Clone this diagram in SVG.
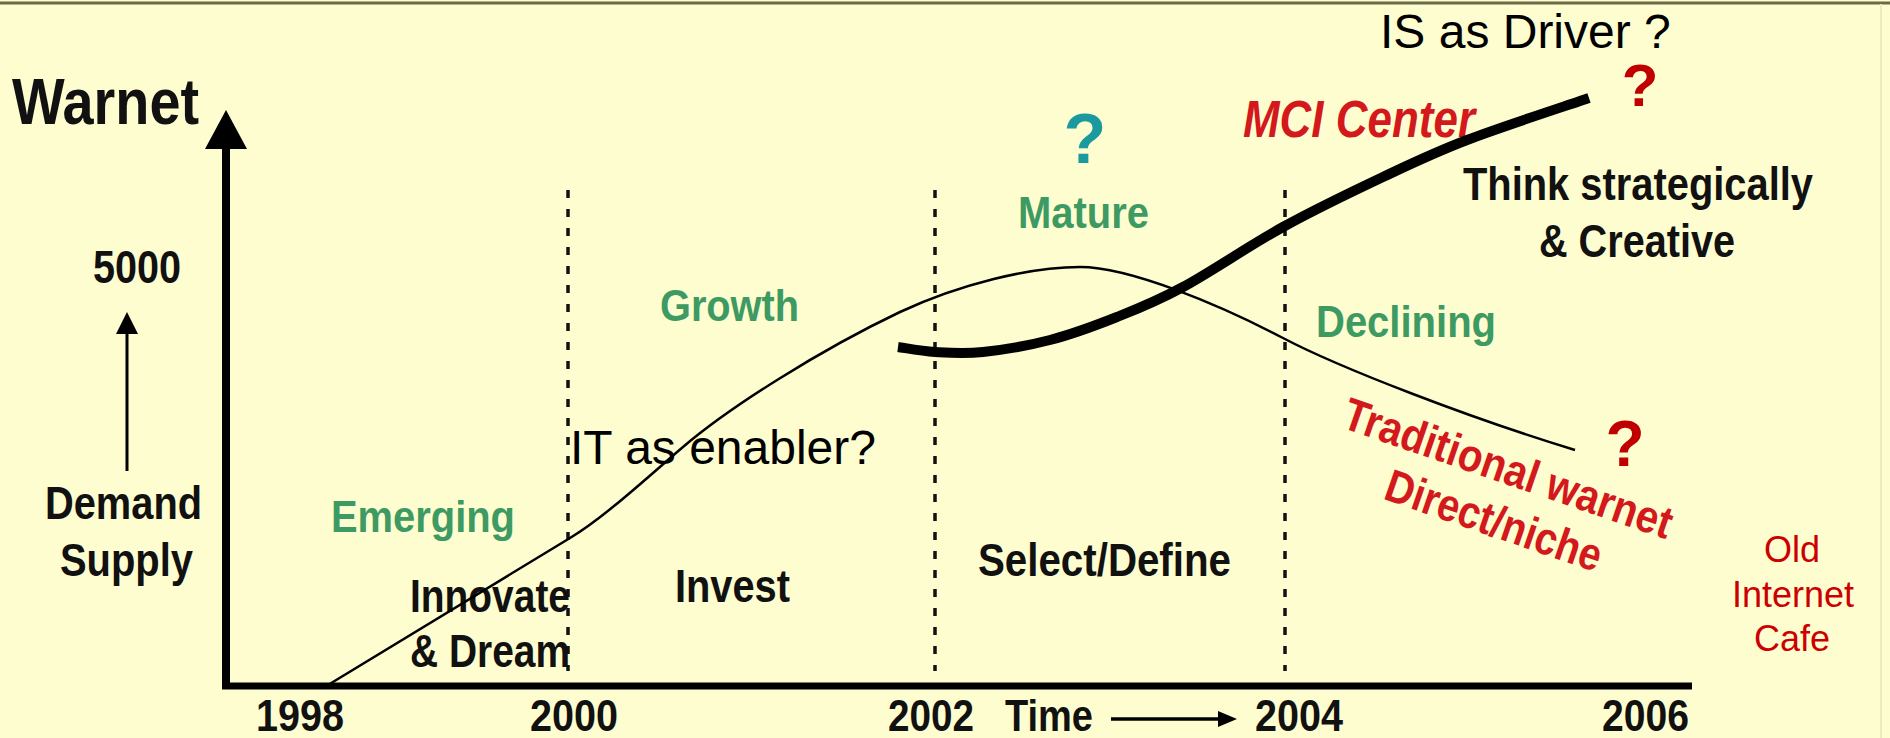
<svg xmlns="http://www.w3.org/2000/svg" width="1890" height="738" viewBox="0 0 1890 738">
<defs>
<style>
.b{font-family:"Liberation Sans",Arial,sans-serif;font-weight:bold;fill:#111}
.r{font-family:"Liberation Sans",Arial,sans-serif}
.k{fill:#000}
.oc{fill:#CC0000}
.g{fill:#3D9A63}
.red{fill:#D3191C}
.q{font-family:"Liberation Sans",Arial,sans-serif;font-weight:bold}
.dash{stroke:#111;stroke-width:3.5;stroke-dasharray:8 11;fill:none}
</style>
</defs>
<rect x="0" y="0" width="1890" height="738" fill="#FEFDCF"/>
<line x1="0" y1="3" x2="1890" y2="3" stroke="#6B6B48" stroke-width="3"/>
<line x1="1881" y1="4" x2="1881" y2="738" stroke="#ECEBC0" stroke-width="2"/>

<g id="axes">
<line x1="226" y1="686" x2="226" y2="145" stroke="#000" stroke-width="8"/>
<polygon points="226,110 205,149 247,149" fill="#000"/>
<line x1="222" y1="686" x2="1692" y2="686" stroke="#000" stroke-width="7"/>
</g>

<g id="dividers">
<line class="dash" x1="568" y1="190" x2="568" y2="671"/>
<line class="dash" x1="935" y1="190" x2="935" y2="671"/>
<line class="dash" x1="1285" y1="190" x2="1285" y2="671"/>
</g>

<g id="y-label">
<text class="b" x="12" y="124" font-size="64" textLength="187" lengthAdjust="spacingAndGlyphs">Warnet</text>
<text class="b" x="93" y="283" font-size="47" textLength="88" lengthAdjust="spacingAndGlyphs">5000</text>
<line x1="127" y1="471" x2="127" y2="328" stroke="#000" stroke-width="3"/>
<polygon points="127,312 116,334 138,334" fill="#000"/>
<text class="b" x="45" y="519" font-size="47" textLength="157" lengthAdjust="spacingAndGlyphs">Demand</text>
<text class="b" x="60" y="576" font-size="47" textLength="133" lengthAdjust="spacingAndGlyphs">Supply</text>
</g>

<g id="x-label">
<text class="b" x="256" y="731" font-size="45" textLength="88" lengthAdjust="spacingAndGlyphs">1998</text>
<text class="b" x="530" y="731" font-size="45" textLength="88" lengthAdjust="spacingAndGlyphs">2000</text>
<text class="b" x="888" y="731" font-size="45" textLength="86" lengthAdjust="spacingAndGlyphs">2002</text>
<text class="b" x="1005" y="731" font-size="45" textLength="88" lengthAdjust="spacingAndGlyphs">Time</text>
<line x1="1111" y1="719" x2="1222" y2="719" stroke="#000" stroke-width="3.5"/>
<polygon points="1237,719 1218,711 1218,727" fill="#000"/>
<text class="b" x="1255" y="731" font-size="45" textLength="88" lengthAdjust="spacingAndGlyphs">2004</text>
<text class="b" x="1602" y="731" font-size="45" textLength="87" lengthAdjust="spacingAndGlyphs">2006</text>
</g>

<g id="stage-emerging">
<text class="b g" x="331" y="532" font-size="45" textLength="184" lengthAdjust="spacingAndGlyphs">Emerging</text>
<text class="b" x="410" y="612" font-size="46" textLength="160" lengthAdjust="spacingAndGlyphs">Innovate</text>
<text class="b" x="410" y="667" font-size="46" textLength="160" lengthAdjust="spacingAndGlyphs">&amp; Dream</text>
</g>

<g id="stage-growth">
<text class="b g" x="660" y="321" font-size="45" textLength="139" lengthAdjust="spacingAndGlyphs">Growth</text>
<text class="b" x="675" y="602" font-size="46" textLength="115" lengthAdjust="spacingAndGlyphs">Invest</text>
</g>

<g id="stage-mature">
<text class="q" x="1085" y="163" font-size="70" fill="#1A9A9F" text-anchor="middle">?</text>
<text class="b g" x="1018" y="228" font-size="45" textLength="131" lengthAdjust="spacingAndGlyphs">Mature</text>
<text class="b" x="978" y="576" font-size="46" textLength="253" lengthAdjust="spacingAndGlyphs">Select/Define</text>
</g>

<g id="stage-declining">
<text class="b g" x="1316" y="337" font-size="45" textLength="180" lengthAdjust="spacingAndGlyphs">Declining</text>
</g>

<g id="mci-center">
<text class="b red" x="1243" y="137" font-size="51" font-style="italic" textLength="232" lengthAdjust="spacingAndGlyphs">MCI Center</text>
<text class="q" x="1640" y="106" font-size="60" fill="#C00000" text-anchor="middle">?</text>
<text class="b" x="1638" y="200" font-size="46" text-anchor="middle" textLength="350" lengthAdjust="spacingAndGlyphs">Think strategically</text>
<text class="b" x="1637" y="257" font-size="46" text-anchor="middle" textLength="196" lengthAdjust="spacingAndGlyphs">&amp; Creative</text>
</g>

<g id="traditional">
<g transform="translate(1340,427) rotate(19)">
<text class="b red" x="0" y="0" font-size="46" textLength="345" lengthAdjust="spacingAndGlyphs">Traditional warnet</text>
<text class="b red" x="63" y="54" font-size="46" textLength="226" lengthAdjust="spacingAndGlyphs">Direct/niche</text>
</g>
<text class="q" x="1625" y="466" font-size="64" fill="#C00000" text-anchor="middle">?</text>
</g>

<g id="old-cafe">
<text class="r oc" x="1792" y="562" font-size="36" text-anchor="middle">Old</text>
<text class="r oc" x="1793" y="607" font-size="36" text-anchor="middle">Internet</text>
<text class="r oc" x="1792" y="651" font-size="36" text-anchor="middle">Cafe</text>
</g>

<g id="connectors">
<path d="M328,685 C420,630 500,580 570,538 C605,517 650,475 683,447 C730,407 820,350 900,312 C960,284 1030,267 1080,267 C1130,267 1220,305 1283,338 C1340,368 1470,418 1575,450" fill="none" stroke="#000" stroke-width="2.5"/>
<path d="M898,347 C904.2,347.8 920.8,351.2 935,352 C949.2,352.8 963.8,354 983,352 C1002.2,350 1027.7,345.8 1050,340 C1072.3,334.2 1094.8,325.8 1117,317 C1139.2,308.2 1155.3,302 1183,287 C1210.7,272 1249.7,245.3 1283,227 C1316.3,208.7 1352.3,191.5 1383,177 C1413.7,162.5 1432.7,153.2 1467,140 C1501.3,126.8 1568.7,105 1589,98" fill="none" stroke="#000" stroke-width="10"/>
</g>

<g id="annotations">
<text class="r k" x="570" y="464" font-size="48">IT as enabler?</text>
<text class="r k" x="1380" y="48" font-size="48">IS as Driver ?</text>
</g>
</svg>
